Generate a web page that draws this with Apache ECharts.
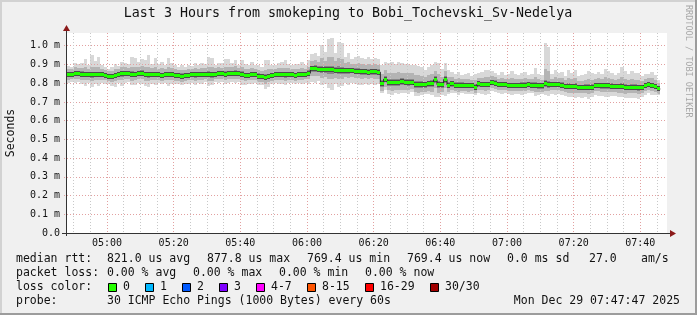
<!DOCTYPE html>
<html><head><meta charset="utf-8">
<script src="https://cdn.jsdelivr.net/npm/echarts@6/dist/echarts.min.js"></script>
<style>html,body{margin:0;padding:0;background:#f0f0f0}#c{width:697px;height:315px}</style>
</head><body><div id="c"></div><script>
const FONT = 'DejaVu Sans Mono';
const titleText = 'Last 3 Hours from smokeping to Bobi_Tochevski_Sv-Nedelya';
const axisStart = '04:48', axisEnd = '07:48', firstSample = '04:48';
const xMajorLabels = ['05:00','05:20','05:40','06:00','06:20','06:40','07:00','07:20','07:40'];
const yTickValues = [0,100,200,300,400,500,600,700,800,900,1000]; // microseconds
const yMax = 1068;

// median rtt per minute (us)
const median = [
846,848,851,851,849,847,845,846,848,847,844,843,
838,835,841,846,850,853,852,848,847,853,853,846,
844,845,847,846,843,845,847,846,842,840,838,839,
843,845,844,846,848,849,847,845,849,850,851,849,
852,853,854,851,848,842,843,846,845,838,834,831,
836,842,847,848,846,845,847,845,843,846,845,848,
853,876,878,875,874,873,872,871,870,870,868,867,
866,867,865,864,861,860,859,861,860,859,800,822,
804,803,805,806,807,806,805,806,793,792,793,791,
797,797,819,792,791,820,790,796,790,789,790,788,
787,786,778,796,794,793,794,803,801,794,793,791,
788,788,787,788,789,790,791,790,789,786,785,797,
792,791,793,792,790,783,784,782,783,778,777,779,
778,779,787,788,786,787,785,784,783,782,784,778,
777,779,778,775,776,787,795,788,783,769];
// max ping above median (us)
const upMax = [
45,40,55,50,60,80,50,105,70,95,55,45,
40,50,60,45,65,55,50,90,85,60,75,80,
105,60,90,55,70,50,85,60,55,45,60,50,
55,45,65,50,60,55,95,90,50,60,55,80,
75,55,70,45,75,60,55,65,50,60,55,95,
90,55,50,60,65,80,55,50,60,55,70,50,
70,80,85,70,130,95,165,170,90,150,145,75,
95,60,75,80,75,70,80,70,75,70,95,90,
105,110,95,105,100,95,100,90,105,100,95,80,
90,100,95,115,85,90,80,65,60,70,55,60,
65,55,70,60,65,80,75,60,55,50,65,55,
60,75,60,55,65,70,55,60,90,65,60,215,
200,60,75,60,70,55,85,75,90,60,65,70,
85,75,60,70,65,90,80,70,60,75,100,85,
70,85,75,80,65,60,55,70,60,50];
// 90th percentile above median (us)
const upP90 = [
30,28,33,30,33,38,32,43,36,40,32,30,
28,32,34,30,36,33,30,40,38,34,38,38,
43,34,40,32,36,30,38,33,32,30,34,30,
32,30,36,30,34,32,42,40,30,34,32,38,
36,32,36,30,38,34,32,34,30,34,32,42,
40,32,30,34,34,38,32,30,34,32,36,30,
36,43,46,40,58,48,68,70,46,63,60,40,
46,36,40,43,40,38,42,38,40,38,48,46,
50,53,48,52,50,48,50,46,52,50,48,42,
46,50,48,56,44,46,42,36,34,38,32,34,
36,32,38,34,36,42,40,34,32,30,36,32,
34,40,34,32,36,38,32,34,44,36,34,78,
73,34,40,34,38,32,43,40,44,34,36,38,
43,40,34,38,36,44,42,38,34,40,48,43,
38,43,40,42,36,34,32,38,34,30];
// half inter-quartile spread (us)
const quart = [
13,12,14,13,14,15,13,16,14,15,13,13,
12,14,14,13,15,14,13,16,15,14,15,15,
16,14,15,13,14,13,15,14,13,13,14,13,
13,13,14,13,14,13,16,15,13,14,13,15,
14,13,14,13,15,14,13,14,13,14,13,16,
15,13,13,14,14,15,13,13,14,13,14,13,
15,17,18,16,20,18,22,22,17,21,20,16,
17,15,16,17,16,15,16,15,16,15,19,18,
19,20,18,19,19,18,19,17,19,19,18,16,
17,19,18,20,17,18,16,15,14,15,14,14,
15,14,15,14,15,16,15,14,14,13,15,14,
14,15,14,14,15,15,14,14,16,15,14,20,
19,14,15,14,15,14,16,15,16,14,15,15,
16,15,14,15,15,16,16,15,14,15,17,16,
15,16,15,16,14,14,14,15,14,13];
// 10th percentile below median (us)
const dnP10 = [
28,26,30,28,30,32,28,34,30,32,28,28,
26,30,30,28,32,30,28,34,32,30,32,32,
34,30,32,28,30,28,32,30,28,28,30,28,
28,28,30,28,30,28,34,32,28,30,28,32,
30,28,30,28,32,30,28,30,28,30,28,34,
32,28,28,30,30,32,28,28,30,28,30,28,
32,38,40,36,46,42,48,50,40,46,44,36,
38,34,36,38,36,34,36,34,36,34,40,42,
42,44,40,43,42,40,42,38,42,42,40,36,
38,42,44,46,38,44,36,34,32,34,30,32,
32,30,32,30,32,34,32,30,30,28,32,30,
30,32,30,30,32,32,30,30,34,32,30,38,
36,30,32,30,32,30,34,32,34,30,32,32,
34,32,30,32,32,34,34,32,30,32,36,34,
32,34,32,34,30,30,30,32,30,28];
// min ping below median (us)
const dnMin = [
45,40,50,45,55,60,45,65,50,60,45,45,
40,50,60,45,65,50,45,60,55,50,55,60,
65,50,55,45,50,45,60,50,45,45,50,45,
45,45,55,45,50,45,60,55,45,50,45,55,
50,45,55,45,60,50,45,50,45,50,45,60,
55,45,45,50,50,55,45,45,50,45,50,45,
60,70,75,65,85,80,100,105,75,90,85,65,
75,65,70,75,70,65,70,65,70,65,55,60,
60,65,60,65,60,60,65,55,60,60,55,50,
55,60,95,65,55,90,50,50,45,50,45,45,
45,43,40,50,50,55,50,45,50,45,50,45,
45,50,45,45,50,50,45,45,55,50,45,60,
60,50,55,50,55,50,60,55,60,50,55,55,
60,55,50,55,55,60,60,55,50,55,60,55,
55,60,55,60,50,50,45,50,45,30];

const legendRows = [
  {y:259, items:[[16,'median rtt:'],[107,'821.0 us avg'],[207,'877.8 us max'],[307,'769.4 us min'],[407,'769.4 us now'],[507,'0.0 ms sd'],[589,'27.0'],[641,'am/s']]},
  {y:273, items:[[16,'packet loss:'],[107,'0.00 % avg'],[193,'0.00 % max'],[279,'0.00 % min'],[365,'0.00 % now']]},
  {y:287, items:[[16,'loss color:']]},
  {y:301, items:[[16,'probe:'],[107,'30 ICMP Echo Pings (1000 Bytes) every 60s']]}
];
const lossLabels = ['0','1','2','3','4-7','8-15','16-29','30/30'];
const lossColors = ['#26ff00','#00b8ff','#0059ff','#7e00ff','#ff00ff','#ff5500','#ff0000','#a10000'];
const lossBoxX = [108,145,182,219,256,307,365,430];
const stampText = 'Mon Dec 29 07:47:47 2025';

function toMin(s){const p=s.split(':').map(Number);return p[0]*60+p[1];}
function fmtMin(v){const h=Math.floor(v/60),m=Math.round(v-h*60);return String(h).padStart(2,'0')+':'+String(m).padStart(2,'0');}
const xMin = toMin(axisStart), xMax = toMin(axisEnd), t0 = toMin(firstSample);
const majors = xMajorLabels.map(toMin);
const minors = [];
for (let t = Math.ceil(xMin/5)*5; t < xMax; t += 5) if (majors.indexOf(t) < 0) minors.push(t);

function band(lo, hi){ return median.map((m,i)=>[t0+i, m-lo[i], m+hi[i]]); }
function blockSeries(data, color, z){
  return {type:'custom', z, silent:true, clip:true, encode:{x:0,y:[1,2]}, data,
    renderItem(params, api){
      const t=api.value(0), lo=api.value(1), hi=api.value(2);
      const a=api.coord([t,hi]), b=api.coord([t+1,lo]);
      const x=Math.round(a[0]), y=Math.round(a[1]);
      return {type:'rect', shape:{x, y, width:Math.round(b[0])-x, height:Math.max(1,Math.round(b[1])-y)}, style:{fill:color}};
    }};
}
function medianBlocks(color, h, z){
  return {type:'custom', z, silent:true, clip:true, encode:{x:0,y:1}, data: median.map((m,i)=>[t0+i,m]),
    renderItem(params, api){
      const t=api.value(0), v=api.value(1);
      const a=api.coord([t,v]), b=api.coord([t+1,v]);
      const x=Math.round(a[0]);
      return {type:'rect', shape:{x, y:Math.round(a[1]-h/2), width:Math.round(b[0])-x, height:h}, style:{fill:color}};
    }};
}
const stepData = median.map((m,i)=>[t0+i,m]).concat([[t0+median.length, median[median.length-1]]]);

const MAJ = '#e2a0a0', MIN = '#c8c8c8';
const graphics = [
  {type:'rect', shape:{x:0,y:0,width:697,height:2}, style:{fill:'#d2d2d2'}},
  {type:'rect', shape:{x:0,y:0,width:2,height:315}, style:{fill:'#d2d2d2'}},
  {type:'rect', shape:{x:695,y:0,width:2,height:315}, style:{fill:'#9c9c9c'}},
  {type:'rect', shape:{x:0,y:313,width:697,height:2}, style:{fill:'#9c9c9c'}},
  {type:'text', x:348, y:14, style:{text:titleText, font:'13.3px "'+FONT+'"', fill:'#111', align:'center', verticalAlign:'middle'}},
  {type:'text', x:688, y:5, rotation:-Math.PI/2, style:{text:'RRDTOOL / TOBI OETIKER', font:'8.5px "'+FONT+'"', fill:'#a8a8a8', align:'left', verticalAlign:'middle'}},
  {type:'line', shape:{x1:62,y1:233.5,x2:671,y2:233.5}, style:{stroke:'#333',lineWidth:1}, z:10},
  {type:'polygon', shape:{points:[[670,230],[670,237],[676,233.5]]}, style:{fill:'#8b1a1a'}, z:10},
  {type:'line', shape:{x1:66.5,y1:236,x2:66.5,y2:30}, style:{stroke:'#333',lineWidth:1}, z:10},
  {type:'polygon', shape:{points:[[63,31],[70,31],[66.5,25]]}, style:{fill:'#8b1a1a'}, z:10},
  {type:'text', x:680, y:301, style:{text:stampText, font:'11.5px "'+FONT+'"', fill:'#111', align:'right', verticalAlign:'middle'}}
];
legendRows.forEach(r=>r.items.forEach(([x,t])=>graphics.push({type:'text', x, y:r.y, style:{text:t, font:'11.5px "'+FONT+'"', fill:'#111', align:'left', verticalAlign:'middle'}})));
lossLabels.forEach((l,i)=>{
  graphics.push({type:'rect', shape:{x:lossBoxX[i]+0.5,y:283.5,width:8,height:8}, style:{fill:lossColors[i], stroke:'#000', lineWidth:1}});
  graphics.push({type:'text', x:lossBoxX[i]+15, y:287, style:{text:l, font:'11.5px "'+FONT+'"', fill:'#111', align:'left', verticalAlign:'middle'}});
});

const chart = echarts.init(document.getElementById('c'), null, {renderer:'canvas'});
chart.setOption({
  animation:false,
  backgroundColor:'#f0f0f0',
  grid:{left:67, top:33, width:600, height:200, show:true, backgroundColor:'#ffffff', borderWidth:0, containLabel:false, outerBoundsMode:'none'},
  xAxis:[
    {type:'value', min:xMin, max:xMax, position:'bottom', z:2,
     axisLine:{show:false}, axisTick:{show:false, customValues:majors},
     axisLabel:{customValues:majors, formatter:fmtMin, fontFamily:FONT, fontSize:10, color:'#111', margin:5},
     splitLine:{show:true, lineStyle:{color:MAJ, type:[1,2], width:1}}},
    {type:'value', min:xMin, max:xMax, position:'bottom', z:2,
     axisLine:{show:false}, axisTick:{show:false, customValues:minors},
     axisLabel:{show:false},
     splitLine:{show:true, lineStyle:{color:MIN, type:[1,2], width:1}}}
  ],
  yAxis:{type:'value', min:0, max:yMax, z:2, name:'Seconds', nameLocation:'middle', nameGap:50, nameRotate:90,
     nameTextStyle:{fontFamily:FONT, fontSize:11.5, color:'#111'},
     axisLine:{show:false},
     axisTick:{show:true, length:3, customValues:yTickValues, lineStyle:{color:MAJ, type:[1,1]}},
     axisLabel:{customValues:yTickValues, formatter:v=>v===0?'0.0':(v/1000).toFixed(1)+' m', fontFamily:FONT, fontSize:10, color:'#111', margin:7},
     splitLine:{show:true, lineStyle:{color:MAJ, type:[1,2], width:1}}},
  series:[
    blockSeries(band(dnMin, upMax), '#d8d8d8', 1),
    blockSeries(band(dnP10, upP90), '#b4b4b4', 1),
    blockSeries(band(quart, quart), '#878787', 1),
    medianBlocks('#4c4c4c', 5, 3),
    {type:'line', step:'end', data:stepData, z:3, silent:true, symbol:'none', lineStyle:{color:'#222', width:1}},
    medianBlocks('#20ff00', 3, 4)
  ],
  graphic:{elements:graphics}
});
</script></body></html>
